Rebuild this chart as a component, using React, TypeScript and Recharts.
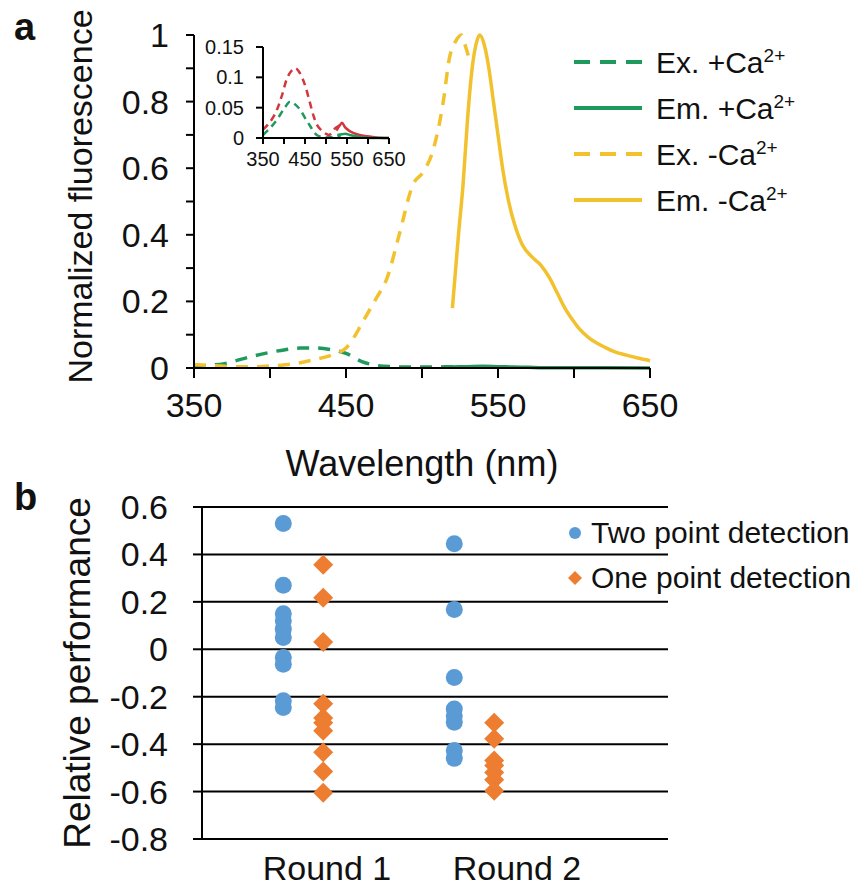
import { LineChart, Line, XAxis, YAxis, ScatterChart, Scatter, CartesianGrid, Legend, Label } from 'recharts';

const FONT = '"Liberation Sans", Arial, Helvetica, sans-serif';
const INK = '#111';
const GREEN = '#1f9a5c';
const GOLD = '#f2c12e';
const RED = '#d2373c';
const BLUE = '#5b9bd5';
const ORANGE = '#ed7d31';

// panel a: spectra (wavelength in nm, normalized fluorescence)
const exPlusNm = [350, 360, 370, 380, 390, 400, 410, 420, 430, 440, 450, 460, 470, 480, 490, 500, 510, 520, 530];
const exPlusVal = [0.005, 0.008, 0.013, 0.025, 0.037, 0.047, 0.055, 0.06, 0.06, 0.055, 0.044, 0.02, 0.008, 0.004, 0.003, 0.003, 0.003, 0.004, 0.003];

const emPlusNm = [520, 530, 540, 550, 560, 570, 580, 600, 620, 650];
const emPlusVal = [0.003, 0.004, 0.005, 0.004, 0.003, 0.002, 0.001, 0.001, 0.001, 0];

const exMinusNm = [350, 360, 370, 380, 390, 400, 410, 420, 430, 440, 450, 455, 460, 465, 470, 477, 485, 494, 501, 507, 514, 518, 522, 526, 529, 531];
const exMinusVal = [0.01, 0.008, 0.005, 0.004, 0.004, 0.006, 0.01, 0.016, 0.026, 0.038, 0.06, 0.09, 0.13, 0.17, 0.21, 0.27, 0.4, 0.55, 0.59, 0.65, 0.8, 0.93, 0.98, 1.0, 0.96, 0.93];

const emMinusNm = [520, 524, 527, 530, 533, 536, 538, 541, 544, 547, 550, 553, 557, 561, 566, 572, 578, 584, 589, 594, 599, 604, 610, 615, 620, 626, 635, 642, 650];
const emMinusVal = [0.18, 0.4, 0.55, 0.75, 0.9, 0.98, 1.0, 0.97, 0.9, 0.8, 0.7, 0.6, 0.5, 0.43, 0.37, 0.335, 0.31, 0.27, 0.225, 0.18, 0.145, 0.115, 0.09, 0.075, 0.063, 0.05, 0.038, 0.03, 0.022];

// inset
const insetRedExNm = [350, 365, 383, 395, 407, 417, 427, 437, 451, 461, 471, 480, 487, 497, 507, 513, 519, 530, 538];
const insetRedExVal = [0.014, 0.025, 0.046, 0.07, 0.098, 0.11, 0.115, 0.108, 0.085, 0.06, 0.035, 0.02, 0.014, 0.008, 0.005, 0.008, 0.014, 0.02, 0.025];
const insetRedEmNm = [525, 532, 538, 545, 555, 566, 580, 598, 620, 650];
const insetRedEmVal = [0.012, 0.02, 0.025, 0.018, 0.012, 0.008, 0.005, 0.003, 0.001, 0];
const insetGreenExNm = [350, 365, 383, 400, 415, 427, 439, 451, 463, 473, 483, 500, 520, 535];
const insetGreenExVal = [0.005, 0.015, 0.03, 0.048, 0.06, 0.055, 0.046, 0.032, 0.019, 0.008, 0.003, 0.001, 0.002, 0.004];
const insetGreenEmNm = [527, 537, 546, 556, 570, 590, 620, 650];
const insetGreenEmVal = [0.005, 0.006, 0.007, 0.005, 0.003, 0.001, 0, 0];

const nmTicks = [350, 400, 450, 500, 550, 600, 650];
const flTicks = [0, 0.1, 0.2, 0.3, 0.4, 0.5, 0.6, 0.7, 0.8, 0.9, 1];
const insetTicks = [0, 0.05, 0.1, 0.15];

// panel b: relative performance
const roundLabels = ['Round 1', 'Round 2'];
const roundTicks = [1, 2];
const twoPointX = [0.77, 1.67];
const onePointX = [0.98, 1.88];
const twoPointR1 = [0.53, 0.27, 0.15, 0.12, 0.085, 0.05, -0.035, -0.063, -0.217, -0.245];
const twoPointR2 = [0.445, 0.168, -0.119, -0.252, -0.28, -0.308, -0.427, -0.46];
const onePointR1 = [0.357, 0.217, 0.031, -0.23, -0.29, -0.31, -0.343, -0.434, -0.515, -0.605];
const onePointR2 = [-0.31, -0.377, -0.469, -0.49, -0.52, -0.55, -0.597];
const perfTicks = [-0.8, -0.6, -0.4, -0.2, 0, 0.2, 0.4, 0.6];

const pts = (xs: number[], ys: number[]) => xs.map((x, i) => ({ x, y: ys[i] }));

const spectra = [
  { name: 'Ex. +Ca', data: pts(exPlusNm, exPlusVal), color: GREEN, dashed: true },
  { name: 'Em. +Ca', data: pts(emPlusNm, emPlusVal), color: GREEN, dashed: false },
  { name: 'Ex. -Ca', data: pts(exMinusNm, exMinusVal), color: GOLD, dashed: true },
  { name: 'Em. -Ca', data: pts(emMinusNm, emMinusVal), color: GOLD, dashed: false },
];

const inset = [
  { name: 'inset red ex', data: pts(insetRedExNm, insetRedExVal), color: RED, dashed: true },
  { name: 'inset red em', data: pts(insetRedEmNm, insetRedEmVal), color: RED, dashed: false },
  { name: 'inset green ex', data: pts(insetGreenExNm, insetGreenExVal), color: GREEN, dashed: true },
  { name: 'inset green em', data: pts(insetGreenEmNm, insetGreenEmVal), color: GREEN, dashed: false },
];

const twoPoint = [...twoPointR1.map((y) => ({ x: twoPointX[0], y })), ...twoPointR2.map((y) => ({ x: twoPointX[1], y }))];
const onePoint = [...onePointR1.map((y) => ({ x: onePointX[0], y })), ...onePointR2.map((y) => ({ x: onePointX[1], y }))];

const axisStroke = { stroke: '#000', strokeWidth: 2 };

const BlueDot = (p: any) => <circle cx={p.cx} cy={p.cy} r={8.5} fill={BLUE} />;
const OrangeDiamond = (p: any) => {
  const r = 10;
  return (
    <polygon
      points={`${p.cx},${p.cy - r} ${p.cx + r},${p.cy} ${p.cx},${p.cy + r} ${p.cx - r},${p.cy}`}
      fill={ORANGE}
    />
  );
};

function SpectraLegend() {
  return (
    <div style={{ fontFamily: FONT, fontSize: 30, color: INK }}>
      {spectra.map((s) => (
        <div key={s.name} style={{ display: 'flex', alignItems: 'center', height: 46 }}>
          <svg width={72} height={10} style={{ marginRight: 12 }}>
            <line
              x1={2}
              y1={5}
              x2={70}
              y2={5}
              stroke={s.color}
              strokeWidth={4}
              strokeDasharray={s.dashed ? '16 10' : undefined}
            />
          </svg>
          <span style={{ whiteSpace: 'nowrap' }}>
            {s.name}
            <sup style={{ fontSize: 19 }}>2+</sup>
          </span>
        </div>
      ))}
    </div>
  );
}

function DetectionLegend() {
  return (
    <div style={{ fontFamily: FONT, fontSize: 30, color: INK }}>
      <div style={{ display: 'flex', alignItems: 'center', height: 45 }}>
        <svg width={20} height={20} style={{ marginRight: 6 }}>
          <circle cx={10} cy={10} r={6} fill={BLUE} />
        </svg>
        <span style={{ whiteSpace: 'nowrap' }}>Two point detection</span>
      </div>
      <div style={{ display: 'flex', alignItems: 'center', height: 45 }}>
        <svg width={20} height={20} style={{ marginRight: 6 }}>
          <polygon points="10,3 17,10 10,17 3,10" fill={ORANGE} />
        </svg>
        <span style={{ whiteSpace: 'nowrap' }}>One point detection</span>
      </div>
    </div>
  );
}

const panelLetter = (top: number): React.CSSProperties => ({
  position: 'absolute',
  left: 14,
  top,
  fontFamily: FONT,
  fontWeight: 'bold',
  fontSize: 38,
  color: INK,
  lineHeight: 1,
});

export default function App() {
  return (
    <div style={{ position: 'absolute', left: 0, top: 0, width: 865, height: 887, background: '#fff', overflow: 'hidden' }}>
      <div style={panelLetter(8)}>a</div>
      <div style={panelLetter(478)}>b</div>

      {/* main spectra */}
      <div style={{ position: 'absolute', left: 0, top: 0 }}>
        <LineChart width={865} height={500} margin={{ top: 35, right: 215, bottom: 70, left: 0 }}>
          <XAxis
            type="number"
            dataKey="x"
            domain={[350, 650]}
            ticks={nmTicks}
            interval={0}
            height={62}
            axisLine={axisStroke}
            tickLine={axisStroke}
            tickSize={10}
            tickMargin={15}
            tick={{ fill: INK, fontSize: 34, fontFamily: FONT }}
            tickFormatter={(v: number) => ((v - 350) % 100 === 0 ? String(v) : '')}
          >
            <Label
              content={({ viewBox }: any) => (
                <text
                  x={viewBox.x + viewBox.width / 2}
                  y={viewBox.y + 108}
                  textAnchor="middle"
                  fontSize={36}
                  fontFamily={FONT}
                  fill={INK}
                >
                  Wavelength (nm)
                </text>
              )}
            />
          </XAxis>
          <YAxis
            type="number"
            domain={[0, 1]}
            ticks={flTicks}
            interval={0}
            width={194}
            axisLine={axisStroke}
            tickLine={axisStroke}
            tickSize={8}
            tickMargin={17}
            tick={{ fill: INK, fontSize: 34, fontFamily: FONT }}
            tickFormatter={(v: number) => {
              const k = Math.round(v * 10);
              return k % 2 === 0 ? String(k / 10) : '';
            }}
          >
            <Label
              content={({ viewBox }: any) => {
                const cx = viewBox.x + 80;
                const cy = viewBox.y + viewBox.height / 2 - 5;
                return (
                  <text
                    x={cx}
                    y={cy}
                    transform={`rotate(-90 ${cx} ${cy})`}
                    textAnchor="middle"
                    dominantBaseline="central"
                    fontSize={34}
                    fontFamily={FONT}
                    fill={INK}
                  >
                    Normalized fluorescence
                  </text>
                );
              }}
            />
          </YAxis>
          <Legend
            verticalAlign="middle"
            align="center"
            layout="horizontal"
            content={() => <SpectraLegend />}
            wrapperStyle={{ left: 572, top: 39, width: 290, height: 190 }}
          />
          {spectra.map((s) => (
            <Line
              key={s.name}
              name={s.name}
              data={s.data}
              dataKey="y"
              type="monotone"
              stroke={s.color}
              strokeWidth={3.5}
              strokeDasharray={s.dashed ? '12 9' : undefined}
              dot={false}
              activeDot={false}
              isAnimationActive={false}
            />
          ))}
        </LineChart>
      </div>

      {/* inset */}
      <div style={{ position: 'absolute', left: 180, top: 30 }}>
        <LineChart width={240} height={150} margin={{ top: 17, right: 31, bottom: 8, left: 0 }}>
          <XAxis
            type="number"
            dataKey="x"
            domain={[350, 650]}
            ticks={nmTicks}
            interval={0}
            height={34}
            axisLine={axisStroke}
            tickLine={axisStroke}
            tickSize={6}
            tickMargin={8}
            tick={{ fill: INK, fontSize: 20, fontFamily: FONT }}
            tickFormatter={(v: number) => ((v - 350) % 100 === 0 ? String(v) : '')}
          />
          <YAxis
            type="number"
            domain={[0, 0.15]}
            ticks={insetTicks}
            interval={0}
            width={83}
            axisLine={axisStroke}
            tickLine={axisStroke}
            tickSize={7}
            tickMargin={12}
            tick={{ fill: INK, fontSize: 20, fontFamily: FONT }}
            tickFormatter={(v: number) => String(v)}
          />
          {inset.map((s) => (
            <Line
              key={s.name}
              data={s.data}
              dataKey="y"
              type="monotone"
              stroke={s.color}
              strokeWidth={2.5}
              strokeDasharray={s.dashed ? '7 5' : undefined}
              dot={false}
              activeDot={false}
              isAnimationActive={false}
            />
          ))}
        </LineChart>
      </div>

      {/* panel b */}
      <div style={{ position: 'absolute', left: 0, top: 480 }}>
        <ScatterChart width={865} height={407} margin={{ top: 27, right: 197, bottom: 0, left: 0 }}>
          <CartesianGrid vertical={false} stroke="#000" strokeWidth={2} />
          <XAxis
            type="number"
            dataKey="x"
            domain={[0.342, 2.795]}
            ticks={roundTicks}
            interval={0}
            height={48}
            axisLine={false}
            tickLine={false}
            tickSize={0}
            tickMargin={17}
            tick={{ fill: INK, fontSize: 34, fontFamily: FONT }}
            tickFormatter={(v: number) => roundLabels[roundTicks.indexOf(v)] ?? ''}
          />
          <YAxis
            type="number"
            dataKey="y"
            domain={[-0.8, 0.6]}
            ticks={perfTicks}
            interval={0}
            width={202}
            axisLine={axisStroke}
            tickLine={axisStroke}
            tickSize={9}
            tickMargin={25}
            tick={{ fill: INK, fontSize: 34, fontFamily: FONT }}
            tickFormatter={(v: number) => String(v)}
          >
            <Label
              content={({ viewBox }: any) => {
                const cx = viewBox.x + 77;
                const cy = viewBox.y + viewBox.height / 2;
                return (
                  <text
                    x={cx}
                    y={cy}
                    transform={`rotate(-90 ${cx} ${cy})`}
                    textAnchor="middle"
                    dominantBaseline="central"
                    fontSize={37}
                    fontFamily={FONT}
                    fill={INK}
                  >
                    Relative performance
                  </text>
                );
              }}
            />
          </YAxis>
          <Legend
            verticalAlign="middle"
            align="center"
            layout="horizontal"
            content={() => <DetectionLegend />}
            wrapperStyle={{ left: 565, top: 30, width: 300, height: 90 }}
          />
          <Scatter name="Two point detection" data={twoPoint} shape={BlueDot} isAnimationActive={false} />
          <Scatter name="One point detection" data={onePoint} shape={OrangeDiamond} isAnimationActive={false} />
        </ScatterChart>
      </div>
    </div>
  );
}
